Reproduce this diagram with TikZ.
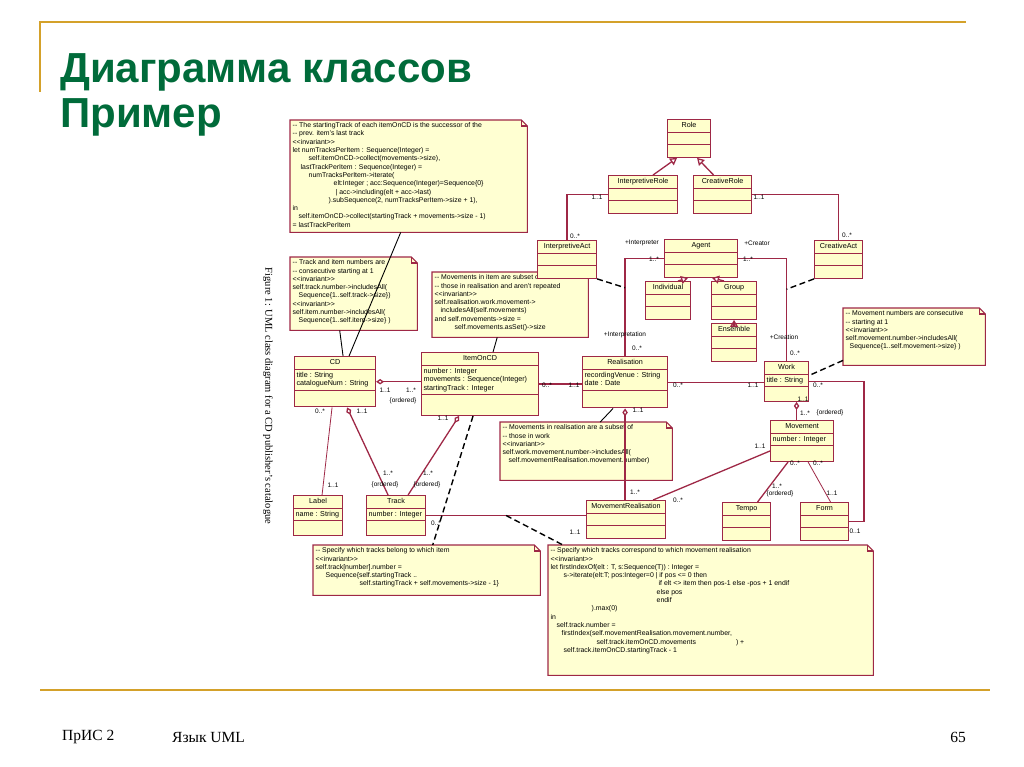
\documentclass[tikz,border=0pt]{standalone}
\usepackage{fontspec}
\setmainfont{Liberation Serif}
\setsansfont{Liberation Sans}
\usepackage{xcolor}
\definecolor{UmlRed}{HTML}{9E2846}
\definecolor{ClassFill}{HTML}{FFFFCC}
\definecolor{NoteFill}{HTML}{FFFFD2}
\definecolor{SlideGold}{HTML}{D4A12A}
\definecolor{TitleGreen}{HTML}{006B3A}
\usepackage{tikz}
\usetikzlibrary{arrows.meta,positioning,shapes.multipart}

\newcommand{\titlefont}{\sffamily\bfseries\fontsize{42}{48}\selectfont}
\newcommand{\footfont}{\rmfamily\fontsize{15.5}{18}\selectfont}
\newcommand{\clsfont}{\sffamily\fontsize{7.2}{8.5}\selectfont}
\newcommand{\notefont}{\sffamily\fontsize{6.9}{8.3}\selectfont}
\newcommand{\multfont}{\sffamily\fontsize{6.5}{7}\selectfont}
\newcommand{\vgap}[1]{\rule{0pt}{#1pt}}
\newcommand{\cmt}{\mbox{-}\mbox{-}}
\newcommand{\invar}{\mbox{<}\mbox{<}invariant\mbox{>}\mbox{>}}
\newcommand{\attrs}[1]{\begin{tabular}{@{}l@{}}#1\end{tabular}}
\newcommand{\notetext}[3]{\parbox[c][#2][t]{#1}{\raggedright #3}}

\begin{document}
\begin{tikzpicture}[x=1pt,y=-1pt,
  cls/.style={rectangle split,rectangle split parts=3,rectangle split ignore empty parts=false,
    rectangle split part align={center,left,left},draw=UmlRed,fill=ClassFill,line width=1.1pt,
    font=\clsfont,inner xsep=2pt,inner ysep=1.5pt,anchor=north west,execute at begin node=\strut},
  note/.style={anchor=north west,inner sep=2.5pt,font=\notefont,
    append after command={\pgfextra{
      \filldraw[fill=NoteFill,draw=UmlRed,line width=1.1pt]
        (\tikzlastnode.north west) -- ([xshift=-6pt]\tikzlastnode.north east)
        -- ([yshift=-6pt]\tikzlastnode.north east) -- (\tikzlastnode.south east)
        -- (\tikzlastnode.south west) -- cycle;
      \draw[UmlRed,line width=1.1pt] ([xshift=-6pt]\tikzlastnode.north east)
        |- ([yshift=-6pt]\tikzlastnode.north east);}}},
  assoc/.style={UmlRed,line width=1.3pt},
  gen/.style={assoc,-{Triangle[open,length=7pt,width=8pt]}},
  aggr/.style={assoc,{Diamond[open,length=8pt,width=5.5pt]}-},
  link/.style={black,line width=1.4pt,dash pattern=on 6pt off 3.5pt},
  anchorline/.style={black,line width=0.9pt},
  mult/.style={font=\multfont,inner sep=0pt}
]
  \useasboundingbox (0,0) rectangle (1024,767);

  % slide frame
  \draw[SlideGold,line width=2pt] (40,92) -- (40,22) -- (966,22);
  \draw[SlideGold,line width=2pt] (40,690) -- (990,690);
  \node[anchor=base west,font=\titlefont,text=TitleGreen,inner sep=0pt] (title) at (60,83) {Диаграмма классов};
  \node[anchor=base west,font=\titlefont,text=TitleGreen,inner sep=0pt] (subtitle) at (60,128) {Пример};
  \node[anchor=west,font=\footfont,inner sep=0pt] (footLeft) at (62,737) {ПрИС 2};
  \node[anchor=west,font=\footfont,inner sep=0pt] (footMid) at (172,737) {Язык UML};
  \node[anchor=east,font=\footfont,inner sep=0pt] (footPage) at (966,737) {65};
  \node[rotate=-90,font=\rmfamily\fontsize{10.5}{12}\selectfont,inner sep=0pt] (caption) at (268,396)
    {Figure 1: UML class diagram for a CD publisher's catalogue};

  % notes
  \node[note] (nStart) at (290,120) {\notetext{232pt}{107pt}{%
    \cmt{} The startingTrack of each itemOnCD is the successor of the\\
    \cmt{} prev. item's last track\\
    \invar\\
    let numTracksPerItem : Sequence(Integer) =\\
    \hspace*{16pt}self.itemOnCD->collect(movements->size),\\
    \hspace*{8pt}lastTrackPerItem : Sequence(Integer) =\\
    \hspace*{16pt}numTracksPerItem->iterate(\\
    \hspace*{41pt}elt:Integer ; acc:Sequence(Integer)=Sequence\{0\}\\
    \hspace*{43pt}| acc->including(elt + acc->last)\\
    \hspace*{36pt}).subSequence(2, numTracksPerItem->size + 1),\\
    in\\
    \hspace*{6pt}self.itemOnCD->collect(startingTrack + movements->size - 1)\\
    = lastTrackPerItem}};
  \node[note] (nNumbers) at (290,257) {\notetext{122pt}{68pt}{%
    \cmt{} Track and item numbers are\\
    \cmt{} consecutive starting at 1\\
    \invar\\
    self.track.number->includesAll(\\
    \hspace*{6pt}Sequence\{1..self.track->size\})\\
    \invar\\
    self.item.number->includesAll(\\
    \hspace*{6pt}Sequence\{1..self.item->size\} )}};
  \node[note] (nItemMov) at (432,272) {\notetext{151pt}{60pt}{%
    \cmt{} Movements in item are subset of\\
    \cmt{} those in realisation and aren't repeated\\
    \invar\\
    self.realisation.work.movement->\\
    \hspace*{6pt}includesAll(self.movements)\\
    and self.movements->size =\\
    \hspace*{20pt}self.movements.asSet()->size}};
  \node[note] (nMovNum) at (843,308) {\notetext{137pt}{52pt}{%
    \cmt{} Movement numbers are consecutive\\
    \cmt{} starting at 1\\
    \invar\\
    self.movement.number->includesAll(\\
    \hspace*{4pt}Sequence\{1..self.movement->size\} )}};
  \node[note] (nRealMov) at (500,422) {\notetext{167pt}{53pt}{%
    \cmt{} Movements in realisation are a subset of\\
    \cmt{} those in work\\
    \invar\\
    self.work.movement.number->includesAll(\\
    \hspace*{6pt}self.movementRealisation.movement.number)}};
  \node[note] (nTrackItem) at (313,545) {\notetext{222pt}{45pt}{%
    \cmt{} Specify which tracks belong to which item\\
    \invar\\
    self.track[number].number =\\
    \hspace*{10pt}Sequence\{self.startingTrack ..\\
    \hspace*{44pt}self.startingTrack + self.movements->size - 1\}}};
  \node[note] (nTrackMov) at (548,545) {\notetext{320pt}{125pt}{%
    \cmt{} Specify which tracks correspond to which movement realisation\\
    \invar\\
    let firstIndexOf(elt : T, s:Sequence(T)) : Integer =\\
    \hspace*{13pt}s->iterate(elt:T; pos:Integer=0 | if pos <= 0 then\\
    \hspace*{108pt}if elt <> item then pos-1 else -pos + 1 endif\\
    \hspace*{106pt}else pos\\
    \hspace*{106pt}endif\\
    \hspace*{41pt}).max(0)\\
    in\\
    \hspace*{6pt}self.track.number =\\
    \hspace*{11pt}firstIndex(self.movementRealisation.movement.number,\\
    \hspace*{46pt}self.track.itemOnCD.movements\hspace*{40pt}) +\\
    \hspace*{13pt}self.track.itemOnCD.startingTrack - 1}};

  % classes
  \node[cls,minimum width=43pt] (role) at (667,119) {Role\nodepart{two}\vgap{4.5}\nodepart{three}\vgap{4.5}};
  \node[cls,minimum width=69pt] (irole) at (608,175) {InterpretiveRole\nodepart{two}\vgap{4}\nodepart{three}\vgap{4}};
  \node[cls,minimum width=58pt] (crole) at (693,175) {CreativeRole\nodepart{two}\vgap{4}\nodepart{three}\vgap{4}};
  \node[cls,minimum width=59pt] (iact) at (537,240) {InterpretiveAct\nodepart{two}\vgap{4}\nodepart{three}\vgap{4}};
  \node[cls,minimum width=73pt] (agent) at (664,239) {Agent\nodepart{two}\vgap{3}\nodepart{three}\vgap{3}};
  \node[cls,minimum width=48pt] (cact) at (814,240) {CreativeAct\nodepart{two}\vgap{4}\nodepart{three}\vgap{4}};
  \node[cls,minimum width=45pt] (indiv) at (645,281) {Individual\nodepart{two}\vgap{4}\nodepart{three}\vgap{4}};
  \node[cls,minimum width=45pt] (group) at (711,281) {Group\nodepart{two}\vgap{4}\nodepart{three}\vgap{4}};
  \node[cls,minimum width=45pt] (ens) at (711,323) {Ensemble\nodepart{two}\vgap{4}\nodepart{three}\vgap{4}};
  \node[cls,minimum width=81pt] (cd) at (294,356) {CD\nodepart{two}\attrs{title : String\\catalogueNum : String}\nodepart{three}\vgap{10}};
  \node[cls,minimum width=117pt] (item) at (421,352) {ItemOnCD\nodepart{two}\attrs{number : Integer\\movements : Sequence(Integer)\\startingTrack : Integer}\nodepart{three}\vgap{14}};
  \node[cls,minimum width=85pt] (real) at (582,356) {Realisation\nodepart{two}\attrs{recordingVenue : String\\date : Date}\nodepart{three}\vgap{11}};
  \node[cls,minimum width=44pt] (work) at (764,361) {Work\nodepart{two}\strut title : String\nodepart{three}\vgap{8}};
  \node[cls,minimum width=63pt] (move) at (770,420) {Movement\nodepart{two}\strut number : Integer\nodepart{three}\vgap{9}};
  \node[cls,minimum width=49pt] (label) at (293,495) {Label\nodepart{two}\strut name : String\nodepart{three}\vgap{8}};
  \node[cls,minimum width=59pt] (track) at (366,495) {Track\nodepart{two}\strut number : Integer\nodepart{three}\vgap{8}};
  \node[cls,minimum width=79pt] (mreal) at (586,500) {MovementRealisation\nodepart{two}\vgap{5}\nodepart{three}\vgap{5}};
  \node[cls,minimum width=48pt] (tempo) at (722,502) {Tempo\nodepart{two}\vgap{4.5}\nodepart{three}\vgap{4.5}};
  \node[cls,minimum width=48pt] (form) at (800,502) {Form\nodepart{two}\vgap{4.5}\nodepart{three}\vgap{4.5}};

  % generalisations
  \draw[gen] ([xshift=10pt]irole.north) -- ([xshift=-12pt]role.south);
  \draw[gen] ([xshift=-9pt]crole.north) -- ([xshift=8pt]role.south);
  \draw[gen] ([xshift=10pt]indiv.north) -- ([xshift=-13pt]agent.south);
  \draw[gen] ([xshift=-10pt]group.north) -- ([xshift=11pt]agent.south);
  \draw[gen] (ens.north) -- (group.south);

  % associations
  \draw[assoc] (irole.west) -| (iact.north);
  \draw[assoc] (crole.east) -| (cact.north);
  \draw[assoc] (agent.west) -| coordinate[pos=0.65] (interpLink) (real.north);
  \draw[assoc] (agent.east) -| coordinate[pos=0.65] (creatLink) (work.north);
  \draw[aggr] (cd.east) -- (cd.east -| item.west);
  \draw[assoc] (item.east) -- (item.east -| real.west);
  \draw[assoc] (real.east) -- (real.east -| work.west);
  \draw[assoc] (work.east) -- ++(55,0) |- (form.east);
  \draw[aggr] ([xshift=10pt]work.south) -- ([xshift=10pt]work.south |- move.north);
  \draw[aggr] (real.south) -- (real.south |- mreal.north);
  \draw[assoc] ([yshift=-10pt]move.west) -- ([xshift=27pt]mreal.north);
  \draw[assoc] ([xshift=-14pt]move.south) -- ([xshift=11pt]tempo.north);
  \draw[assoc,line width=0.8pt] ([xshift=6pt]move.south) -- ([xshift=6pt]form.north);
  \draw[assoc,line width=0.8pt] ([xshift=-3pt]cd.south) -- ([xshift=4pt]label.north);
  \draw[aggr] ([xshift=12pt]cd.south) -- ([xshift=-8pt]track.north);
  \draw[aggr] ([xshift=-21pt]item.south) -- ([xshift=12pt]track.north);
  \draw[assoc] (track.east) -- coordinate[pos=0.5] (trackLink) (track.east -| mreal.west);

  % association classes and notes
  \draw[link] (iact.south east) -- (interpLink);
  \draw[link] (cact.south west) -- (creatLink);
  \draw[link] ([yshift=5pt]nMovNum.south west) -- ([yshift=6pt]work.east);
  \draw[link] ([xshift=-7pt]item.south) -- ([xshift=6pt]nTrackItem.north);
  \draw[link] (trackLink) -- ([xshift=15pt]nTrackMov.north west);
  \draw[anchorline] ([xshift=-8pt]nStart.south) -- ([xshift=14pt]cd.north);
  \draw[anchorline] ([xshift=-14pt]nNumbers.south) -- ([xshift=8pt]cd.north);
  \draw[anchorline] ([xshift=-13pt]nItemMov.south) -- ([xshift=13pt]item.north);
  \draw[anchorline] ([xshift=-12pt]real.south) -- ([xshift=14pt]nRealMov.north);

  % multiplicities and roles
  \node[mult] (m1) at (597,197) {1..1};
  \node[mult] (m2) at (759,197) {1..1};
  \node[mult] (m3) at (575,236) {0..*};
  \node[mult] (m4) at (847,235) {0..*};
  \node[mult] (m5) at (642,243) {+Interpreter};
  \node[mult] (m6) at (654,259) {1..*};
  \node[mult] (m7) at (757,243) {+Creator};
  \node[mult] (m8) at (748,259) {1..*};
  \node[mult] (m9) at (625,335) {+Interpretation};
  \node[mult] (m10) at (637,348) {0..*};
  \node[mult] (m11) at (784,337) {+Creation};
  \node[mult] (m12) at (795,353) {0..*};
  \node[mult] (m13) at (678,385) {0..*};
  \node[mult] (m14) at (753,385) {1..1};
  \node[mult] (m15) at (818,385) {0..*};
  \node[mult] (m16) at (855,531) {0..1};
  \node[mult] (m17) at (803,399) {1..1};
  \node[mult] (m18) at (805,413) {1..*};
  \node[mult] (m19) at (830,413) {\{ordered\}};
  \node[mult] (m20) at (547,385) {0..*};
  \node[mult] (m21) at (574,385) {1..1};
  \node[mult] (m22) at (385,390) {1..1};
  \node[mult] (m23) at (411,390) {1..*};
  \node[mult] (m24) at (403,401) {\{ordered\}};
  \node[mult] (m25) at (320,411) {0..*};
  \node[mult] (m26) at (333,485) {1..1};
  \node[mult] (m27) at (362,411) {1..1};
  \node[mult] (m28) at (388,473) {1..*};
  \node[mult] (m29) at (385,485) {\{ordered\}};
  \node[mult] (m30) at (443,418) {1..1};
  \node[mult] (m31) at (428,473) {1..*};
  \node[mult] (m32) at (427,485) {\{ordered\}};
  \node[mult] (m33) at (638,410) {1..1};
  \node[mult] (m34) at (635,492) {1..*};
  \node[mult] (m35) at (760,446) {1..1};
  \node[mult] (m36) at (678,500) {0..*};
  \node[mult] (m37) at (795,463) {0..*};
  \node[mult] (m38) at (777,486) {1..*};
  \node[mult] (m39) at (780,494) {\{ordered\}};
  \node[mult] (m40) at (818,463) {0..*};
  \node[mult] (m41) at (832,493) {1..1};
  \node[mult] (m42) at (436,523) {0..*};
  \node[mult] (m43) at (575,532) {1..1};
\end{tikzpicture}
\end{document}
